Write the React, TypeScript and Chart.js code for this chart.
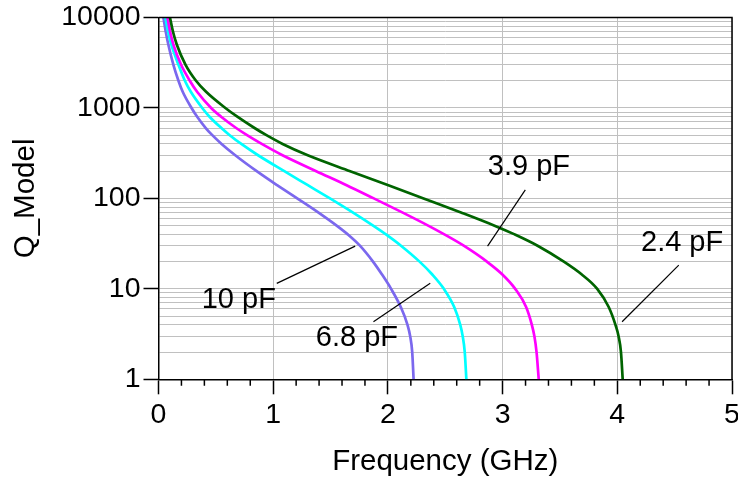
import { useEffect, useRef } from 'react';
import { Chart, registerables } from 'chart.js';

Chart.register(...registerables);

// ---- data ----
const seriesNames = ['2.4 pF', '3.9 pF', '6.8 pF', '10 pF'];
const seriesColors = ['#006400', '#ff00ff', '#00ffff', '#7b68ee'];

// Q levels (read at the grid lines) and the frequency (GHz) where each curve crosses them
const qLevels = [10000, 7000, 5000, 3000, 2000, 1500, 1000, 800, 600, 500, 400, 300, 200, 140, 100, 70, 50, 40, 30, 20, 14.5, 10, 6.3, 4, 3, 2, 1];

const freq24 = [0.100, 0.126, 0.160, 0.236, 0.327, 0.417, 0.583, 0.687, 0.837, 0.941, 1.082, 1.301, 1.671, 2.004, 2.311, 2.637, 2.930, 3.105, 3.305, 3.534, 3.688, 3.825, 3.925, 3.984, 4.011, 4.032, 4.047];
const freq39 = [0.078, 0.101, 0.130, 0.197, 0.273, 0.338, 0.459, 0.546, 0.677, 0.772, 0.900, 1.081, 1.375, 1.640, 1.877, 2.125, 2.351, 2.492, 2.661, 2.863, 2.996, 3.110, 3.205, 3.255, 3.277, 3.296, 3.315];
const freq68 = [0.060, 0.083, 0.112, 0.174, 0.230, 0.283, 0.381, 0.445, 0.548, 0.621, 0.722, 0.868, 1.097, 1.302, 1.495, 1.693, 1.871, 1.983, 2.114, 2.276, 2.385, 2.488, 2.578, 2.631, 2.652, 2.670, 2.684];
const freq10 = [0.043, 0.063, 0.086, 0.130, 0.174, 0.212, 0.288, 0.337, 0.412, 0.469, 0.550, 0.669, 0.856, 1.034, 1.209, 1.392, 1.553, 1.650, 1.756, 1.870, 1.947, 2.028, 2.112, 2.171, 2.194, 2.212, 2.224];

const seriesFreqs = [freq24, freq39, freq68, freq10];

const xMin = 0;
const xMax = 5;
const xStep = 1;
const xMinorStep = 0.2;
const yMin = 1;
const yMax = 10000;
const yDecades = [1, 10, 100, 1000, 10000];

const xTitle = 'Frequency (GHz)';
const yTitle = 'Q_Model';

// label anchors (data coordinates): text position and leader line ends
const labelAnchors = [
  { series: 1, tx: 3.23, ty: 223, x1: 3.198, y1: 124, x2: 2.869, y2: 29.7 },
  { series: 0, tx: 4.565, ty: 32, x1: 4.536, y1: 18.3, x2: 4.042, y2: 4.33 },
  { series: 3, tx: 0.70, ty: 7.52, x1: 1.031, y1: 11.5, x2: 1.715, y2: 29.7 },
  { series: 2, tx: 1.73, ty: 2.84, x1: 1.874, y1: 4.33, x2: 2.369, y2: 11.5 },
];

const FONT_FAMILY = '"Liberation Sans", Arial, Helvetica, sans-serif';
const TICK_SIZE = 28.5;
const TITLE_SIZE = 29.5;
const LABEL_SIZE = 29;

const isDecade = (v: number) => Math.abs(Math.log10(v) - Math.round(Math.log10(v))) < 1e-9;

const framePlugin = {
  id: 'frameAndLabels',
  afterDraw(chart: any) {
    const { ctx, chartArea } = chart;
    const { left, top, right, bottom } = chartArea;
    const xs = chart.scales.x;
    const ys = chart.scales.y;
    ctx.save();
    // top & right frame
    ctx.strokeStyle = '#000';
    ctx.lineWidth = 1.5;
    ctx.beginPath();
    ctx.moveTo(left, top);
    ctx.lineTo(right, top);
    ctx.lineTo(right, bottom);
    ctx.stroke();
    // minor x ticks
    ctx.beginPath();
    const n = Math.round((xMax - xMin) / xMinorStep);
    for (let i = 0; i <= n; i++) {
      const v = xMin + i * xMinorStep;
      if (Math.abs(v / xStep - Math.round(v / xStep)) < 1e-6) continue;
      const px = xs.getPixelForValue(v);
      ctx.moveTo(px, bottom);
      ctx.lineTo(px, bottom + 6.5);
    }
    ctx.stroke();
    // labels & leaders
    ctx.lineWidth = 1.2;
    ctx.font = `${LABEL_SIZE}px ${FONT_FAMILY}`;
    ctx.fillStyle = '#000';
    ctx.textAlign = 'center';
    ctx.textBaseline = 'middle';
    for (const a of labelAnchors) {
      ctx.beginPath();
      ctx.moveTo(xs.getPixelForValue(a.x1), ys.getPixelForValue(a.y1));
      ctx.lineTo(xs.getPixelForValue(a.x2), ys.getPixelForValue(a.y2));
      ctx.stroke();
      ctx.fillText(seriesNames[a.series], xs.getPixelForValue(a.tx), ys.getPixelForValue(a.ty));
    }
    ctx.restore();
  },
};

export default function App() {
  const ref = useRef<HTMLCanvasElement | null>(null);

  useEffect(() => {
    if (!ref.current) return;
    const datasets = seriesNames.map((name, i) => ({
      label: name,
      data: seriesFreqs[i].map((f, j) => ({ x: f, y: qLevels[j] })),
      borderColor: seriesColors[i],
      backgroundColor: seriesColors[i],
      borderWidth: 2.7,
      pointRadius: 0,
      cubicInterpolationMode: 'monotone' as const,
      fill: false,
    }));

    const tickFont = { family: FONT_FAMILY, size: TICK_SIZE };
    const titleFont = { family: FONT_FAMILY, size: TITLE_SIZE };

    const chart = new Chart(ref.current, {
      type: 'line',
      data: { datasets },
      plugins: [framePlugin],
      options: {
        animation: false,
        responsive: false,
        events: [],
        layout: { padding: { top: 17.5, right: 6, left: 0, bottom: 0 } },
        plugins: { legend: { display: false }, tooltip: { enabled: false } },
        scales: {
          x: {
            type: 'linear',
            min: xMin,
            max: xMax,
            ticks: { stepSize: xStep, color: '#000', font: tickFont, padding: 4, maxRotation: 0 },
            grid: { color: '#c0c0c0', lineWidth: 1, tickColor: '#000', tickLength: 15, tickWidth: 1.5 },
            border: { color: '#000', width: 1.5 },
            title: { display: true, text: xTitle, color: '#000', font: titleFont, padding: { top: 0, bottom: 1 } },
            afterFit(scale: any) {
              scale.height = 101.7;
              scale.paddingLeft = 0;
              scale.paddingRight = 0;
            },
          },
          y: {
            type: 'logarithmic',
            min: yMin,
            max: yMax,
            afterBuildTicks(scale: any) {
              const t: any[] = [];
              for (let d = 0; d < yDecades.length; d++) {
                const base = yDecades[d];
                if (d === yDecades.length - 1) {
                  t.push({ value: base, major: true });
                } else {
                  for (let k = 1; k <= 9; k++) t.push({ value: base * k, major: k === 1 });
                }
              }
              scale.ticks = t;
            },
            ticks: {
              autoSkip: false,
              color: '#000',
              font: tickFont,
              padding: 3,
              callback: (v: any) => (isDecade(Number(v)) ? String(Number(v)) : ''),
            },
            grid: {
              color: '#c0c0c0',
              lineWidth: 1,
              tickLength: 15,
              tickWidth: 1.5,
              tickColor: (ctx: any) => (ctx.tick && isDecade(ctx.tick.value) ? '#000' : 'rgba(0,0,0,0)'),
            },
            border: { color: '#000', width: 1.5 },
            title: { display: true, text: yTitle, color: '#000', font: titleFont, padding: { top: 8, bottom: 0 } },
            afterFit(scale: any) {
              scale.width = 158.5;
              scale.paddingTop = 0;
              scale.paddingBottom = 0;
            },
          },
        },
      } as any,
    });
    return () => chart.destroy();
  }, []);

  return (
    <div style={{ position: 'fixed', left: 0, top: 0, width: 738, height: 481, background: '#fff' }}>
      <canvas ref={ref} width={738} height={481} style={{ display: 'block' }} />
    </div>
  );
}
